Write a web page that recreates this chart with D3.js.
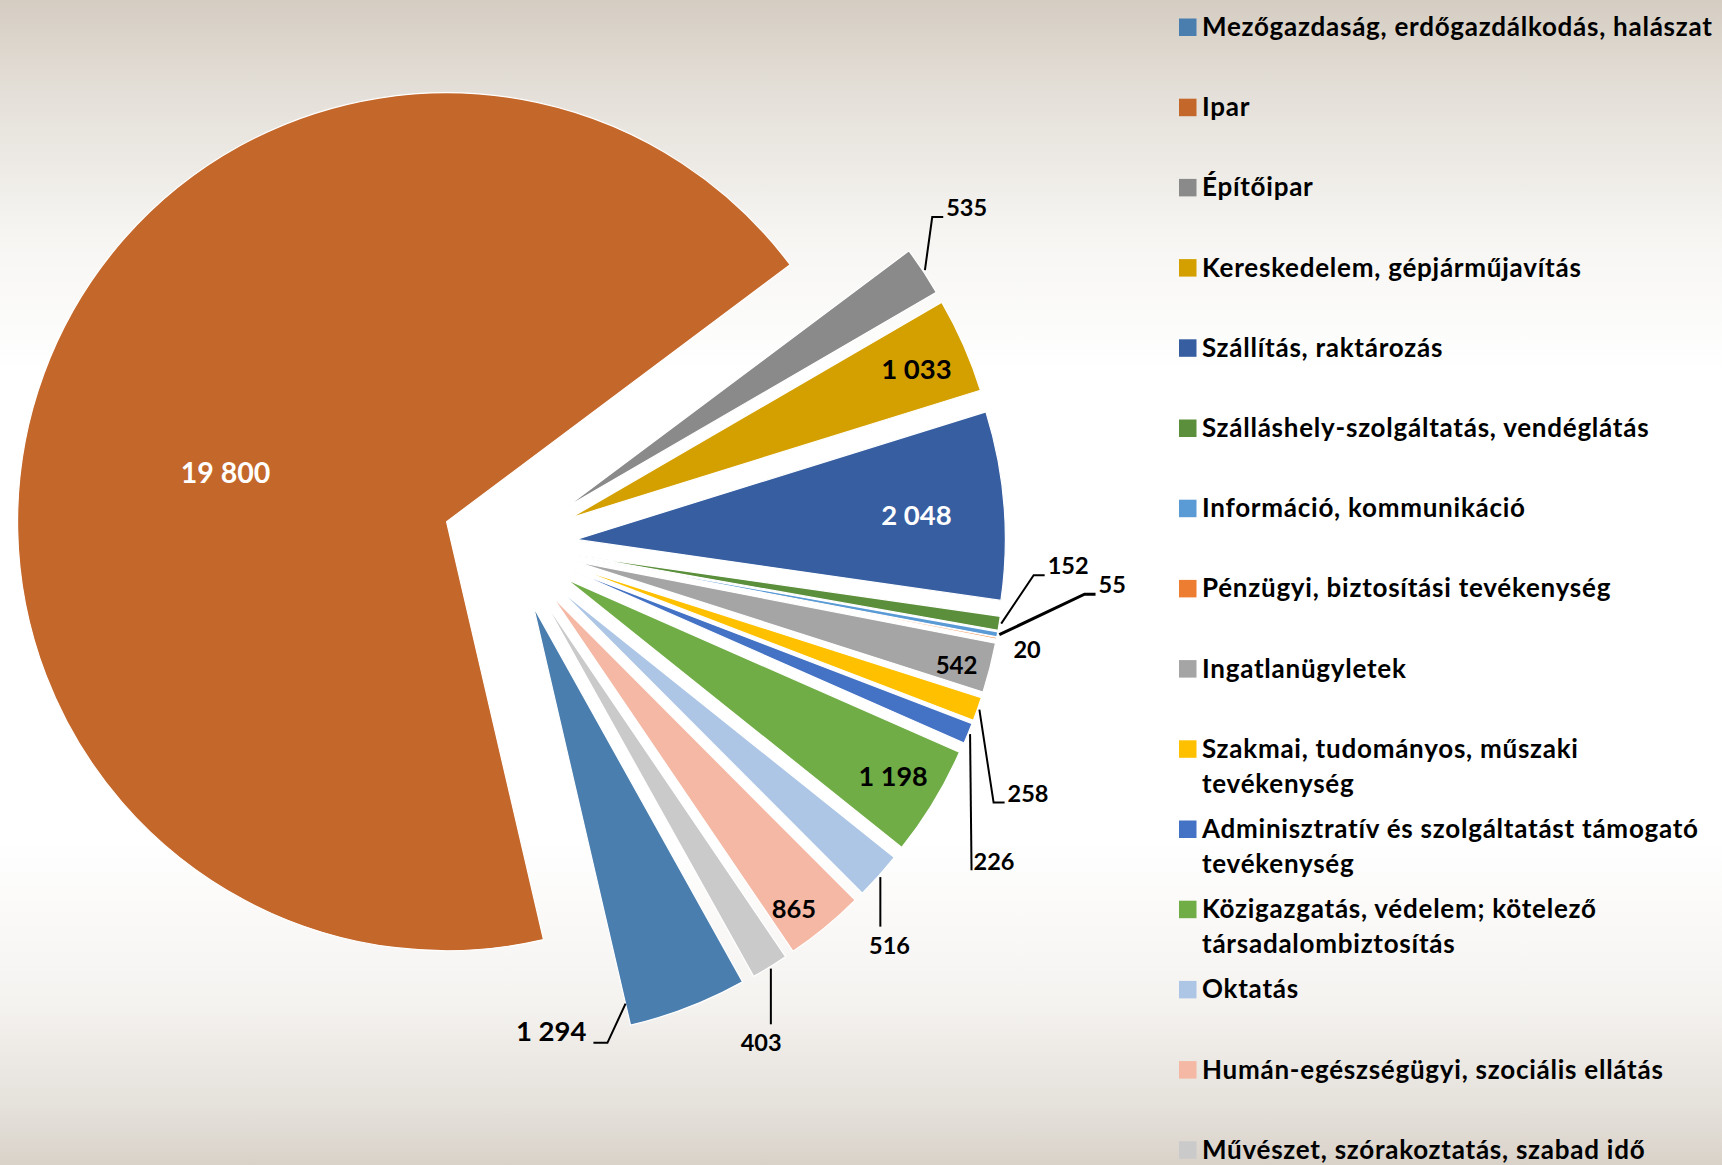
<!DOCTYPE html>
<html lang="hu">
<head>
  <meta charset="UTF-8">
  <title>Nemzetgazdasági ágak szerinti megoszlás</title>
  <script src="https://d3js.org/d3.v7.min.js"></script>
  <style>
    body { margin: 0; }
    svg { display: block; font-family: Lato, "Open Sans", sans-serif; font-weight: 700; }
    .leader { fill: none; stroke: #000; stroke-width: 2px; }
    .legend text { font-size: 26px; letter-spacing: 0.75px; fill: #000; }
  </style>
</head>
<body>
<div id="chart"></div>
<script>

  var categories = [
    "Mezőgazdaság, erdőgazdálkodás, halászat",
    "Ipar",
    "Építőipar",
    "Kereskedelem, gépjárműjavítás",
    "Szállítás, raktározás",
    "Szálláshely-szolgáltatás, vendéglátás",
    "Információ, kommunikáció",
    "Pénzügyi, biztosítási tevékenység",
    "Ingatlanügyletek",
    "Szakmai, tudományos, műszaki tevékenység",
    "Adminisztratív és szolgáltatást támogató tevékenység",
    "Közigazgatás, védelem; kötelező társadalombiztosítás",
    "Oktatás",
    "Humán-egészségügyi, szociális ellátás",
    "Művészet, szórakoztatás, szabad idő"
  ];

  var values = [1294, 19800, 535, 1033, 2048, 152, 55, 20, 542, 258, 226, 1198, 516, 865, 403];

  var colors = ["#4a7eaf", "#c4672a", "#8a8a8a", "#d4a000", "#365ea0", "#5b8f3b", "#5b9bd5",
                "#ed7d31", "#a5a5a5", "#ffc000", "#4472c4", "#70ad47", "#adc6e6", "#f4b8a4", "#cacaca"];

  // label placement: polar around the pie centre [radius px, angle deg], font size, leader kind
  var labelLayout = [
    [488, 175.1, 27.5, "R"],
    [293, 284.2, 28.5, null],
    [568, 53.6, 23.5, "L"],
    [443, 66.7, 27.5, null],
    [408, 85.9, 27.5, null],
    [559, 92.15, 23.5, "L"],
    [604, 93.8, 23.5, "L"],
    [528, 101.4, 23.5, null],
    [463, 105.1, 24, null],
    [575, 115.6, 23.5, "L"],
    [579, 123.2, 23.5, "V"],
    [448, 121.1, 27, null],
    [552, 136.5, 23.5, "T"],
    [462, 142, 25.5, null],
    [558, 153.2, 23.5, "T"]
  ];
  var whiteLabels = ["Ipar", "Szállítás, raktározás"];

  var w = 1722, h = 1165;
  var cx = 509.5, cy = 544.7;
  var R = 429, explode = 67;
  var startDeg = 150.85;

  var svg = d3.select("#chart").append("svg")
      .attr("width", w)
      .attr("height", h);

  // background
  var grad = svg.append("defs").append("linearGradient")
      .attr("id", "bg").attr("x1", 0).attr("y1", 0).attr("x2", 0).attr("y2", 1);
  [[0, "#d5cdc2"], [0.08, "#e4dfd8"], [0.2, "#f6f5f2"], [0.32, "#ffffff"],
   [0.72, "#ffffff"], [0.86, "#f5f3f0"], [0.95, "#e5e1db"], [1, "#d9d2c9"]].forEach(function(s) {
    grad.append("stop").attr("offset", s[0]).attr("stop-color", s[1]);
  });
  svg.append("rect").attr("width", w).attr("height", h).attr("fill", "url(#bg)");

  var rad = Math.PI / 180;
  var pie = d3.pie()
      .sort(null)
      .startAngle(startDeg * rad)
      .endAngle(startDeg * rad + 2 * Math.PI);

  var arcs = pie(values);
  var arc = d3.arc().innerRadius(0).outerRadius(R);

  function polar(r, a) {
    return [r * Math.sin(a), -r * Math.cos(a)];
  }

  var pieG = svg.append("g").attr("transform", "translate(" + cx + "," + cy + ")");

  pieG.selectAll("path.slice")
    .data(arcs)
    .enter().append("path")
      .attr("class", "slice")
      .attr("d", arc)
      .attr("fill", function(d, i) { return colors[i]; })
      .attr("stroke", "#fff")
      .attr("stroke-width", 1.2)
      .attr("transform", function(d) {
        var o = polar(explode, (d.startAngle + d.endAngle) / 2);
        return "translate(" + o[0] + "," + o[1] + ")";
      });

  // data labels
  var fmt = function(v) { return d3.format(",")(v).replace(/,/g, " "); };

  arcs.forEach(function(d, i) {
    var lay = labelLayout[i];
    var p = polar(lay[0], lay[1] * rad);
    var fs = lay[2];
    var t = pieG.append("text")
        .attr("x", p[0])
        .attr("y", p[1] + 0.36 * fs)
        .attr("text-anchor", "middle")
        .style("font-size", fs + "px")
        .attr("fill", whiteLabels.indexOf(categories[i]) >= 0 ? "#fff" : "#000")
        .text(fmt(values[i]));

    if (!lay[3]) return;
    var tw = t.node().getComputedTextLength();
    var mid = (d.startAngle + d.endAngle) / 2;
    var tip = polar(explode, mid);
    // the 1 294 leader meets the slice on its left edge
    var s = categories[i] === categories[0]
      ? polar(R - 22, d.endAngle)
      : polar(R + 2, mid);
    s = [tip[0] + s[0], tip[1] + s[1]];
    var base = p[1] + 0.36 * fs, top = p[1] - 0.36 * fs;
    var left = p[0] - tw / 2, right = p[0] + tw / 2;
    var pts;
    if (lay[3] === "L") pts = [s, [left - 14, base + 1], [left - 3, base + 1]];
    else if (lay[3] === "R") pts = [s, [right + 21, base + 2], [right + 7, base + 2]];
    else if (lay[3] === "T") pts = [s, [s[0], top - 10]];
    else pts = [s, [left - 2, base]];
    pieG.append("path")
      .attr("class", "leader")
      .attr("d", d3.line()(pts))
      .style("stroke-width", values[i] === 55 ? 3 : 2);
  });

  // legend
  var legend = svg.append("g").attr("class", "legend")
      .attr("transform", "translate(1179,0)");
  var rowY = d3.scaleLinear().domain([0, 1]).range([27, 107.2]);
  var maxW = 522;

  categories.forEach(function(c, i) {
    var g = legend.append("g").attr("transform", "translate(0," + rowY(i) + ")");
    g.append("rect")
      .attr("x", 0).attr("y", -8.5)
      .attr("width", 17.5).attr("height", 17.5)
      .attr("fill", colors[i]);
    var t = g.append("text").attr("x", 23).attr("y", 9);
    var words = c.split(" "), line = [];
    var ts = t.append("tspan").attr("x", 23).attr("dy", 0);
    words.forEach(function(wd) {
      line.push(wd);
      ts.text(line.join(" "));
      if (ts.node().getComputedTextLength() > maxW && line.length > 1) {
        line.pop();
        ts.text(line.join(" "));
        line = [wd];
        ts = t.append("tspan").attr("x", 23).attr("dy", 35).text(wd);
      }
    });
  });

</script>
</body>
</html>
